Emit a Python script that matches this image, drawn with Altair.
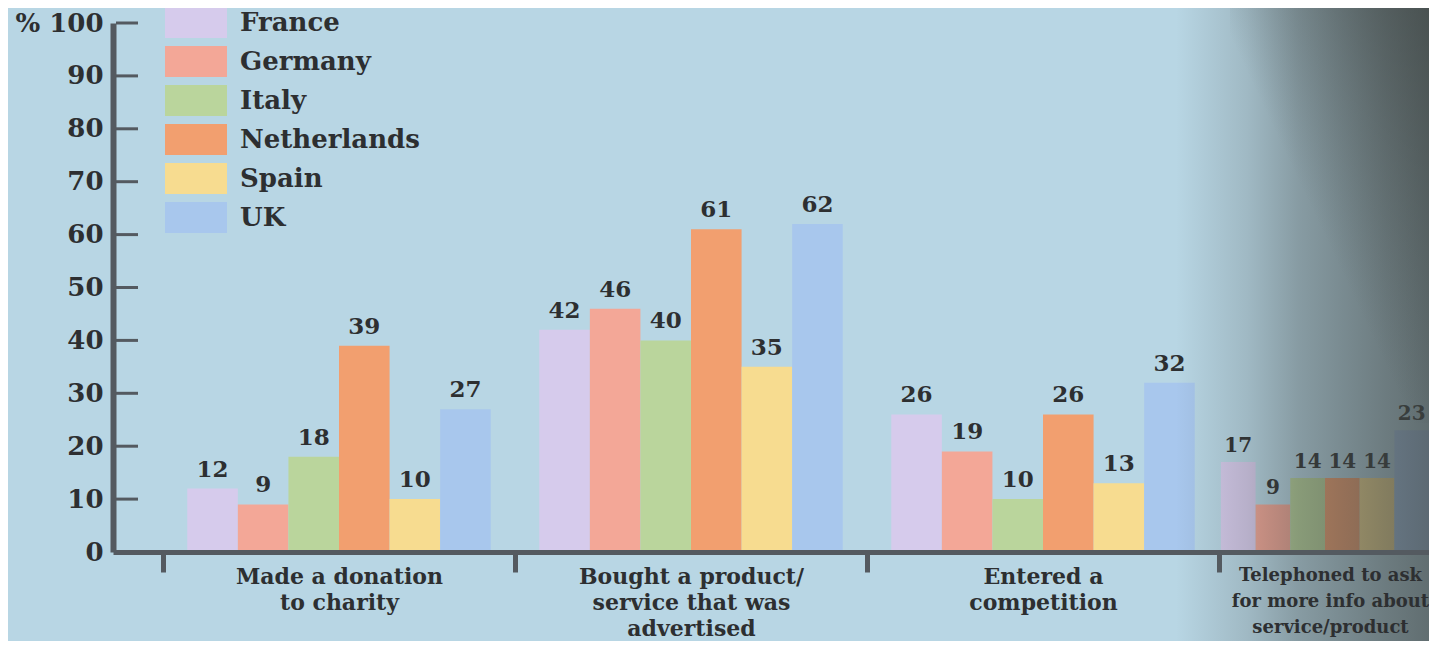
import altair as alt
import pandas as pd

activities = [
    "Made a donation|to charity",
    "Bought a product/|service that was|advertised",
    "Entered a|competition",
    "Telephoned to ask|for more info about|service/product",
]
countries = ["France", "Germany", "Italy", "Netherlands", "Spain", "UK"]
france = [12, 42, 26, 17]
germany = [9, 46, 19, 9]
italy = [18, 40, 10, 14]
netherlands = [39, 61, 26, 14]
spain = [10, 35, 13, 14]
uk = [27, 62, 32, 23]
colors = ["#d6cbec", "#f3a797", "#bad59c", "#f29f6f", "#f7dc90", "#a8c7ed"]
y_ticks = [10, 20, 30, 40, 50, 60, 70, 80, 90, 100]

series = [france, germany, italy, netherlands, spain, uk]
rows = []
for c, vals in zip(countries, series):
    for a, v in zip(activities, vals):
        rows.append({"activity": a, "country": c, "value": v})
df = pd.DataFrame(rows)

FONT = "DejaVu Serif"
TXT = "#2d2f31"
AX = "#545a60"
W, H = 1316, 529
STEP = 352
PO = 50 / STEP
RANGE = STEP * (4 + 2 * PO)
LAST = activities[3]

is_tel = "isString(datum.value) && indexof(datum.value, 'Telephoned') == 0"

# ---- shared encodings ----
y_enc = alt.Y(
    "value:Q",
    scale=alt.Scale(domain=[0, 100], nice=False),
    axis=alt.Axis(
        title=None,
        values=[0] + y_ticks,
        labelExpr="datum.value == 100 ? '% 100' : datum.label",
        labelFont=FONT,
        labelFontWeight="bold",
        labelFontSize=26,
        labelColor=TXT,
        labelPadding=10,
        ticks=False,
        domainColor=AX,
        domainWidth=6,
        grid=False,
        zindex=1,
    ),
)
# legend swatch: path twice as wide as tall (62 x 31 px at size 961)
color_enc = alt.Color(
    "country:N",
    sort=countries,
    scale=alt.Scale(domain=countries, range=colors),
    legend=alt.Legend(
        title=None,
        orient="none",
        legendX=67.5,
        legendY=-16,
        symbolType="M-2,-1H2V1H-2Z",
        symbolSize=961,
        symbolStrokeWidth=0,
        labelFont=FONT,
        labelFontWeight="bold",
        labelFontSize=26,
        labelColor=TXT,
        labelOffset=28.5,
        labelLimit=0,
        rowPadding=8,
        padding=0,
    ),
)

# ---- main groups (uniform band scale, axis for all four activities) ----
x_main = alt.X(
    "activity:N",
    scale=alt.Scale(domain=activities, range=[0, RANGE], paddingInner=0, paddingOuter=PO),
    axis=alt.Axis(
        title=None,
        labelAngle=0,
        labelExpr="split(datum.label, '|')",
        labelFont=FONT,
        labelFontWeight="bold",
        labelFontSize={"condition": {"test": is_tel, "value": 18}, "value": 22},
        labelOffset={"condition": {"test": is_tel, "value": -65}, "value": 0},
        labelColor=TXT,
        labelLineHeight=26,
        labelPadding=-6,
        labelBaseline="top",
        labelLimit=0,
        tickBand="extent",
        tickSize=20,
        tickWidth=5,
        tickColor=AX,
        domainColor=AX,
        domainWidth=5,
        grid=False,
        zindex=1,
    ),
)
xo_main = alt.XOffset(
    "country:N", sort=countries, scale=alt.Scale(paddingOuter=0.48, paddingInner=0)
)

base_main = alt.Chart(df).transform_filter(alt.datum.activity != LAST)
bars_main = base_main.mark_bar(clip=True).encode(
    x=x_main, xOffset=xo_main, y=y_enc, color=color_enc
)
text_main = base_main.mark_text(
    clip=True, baseline="bottom", dy=-7, font=FONT, fontWeight="bold",
    fontSize=23, color=TXT,
).encode(x=x_main, xOffset=xo_main, y="value:Q", text="value:Q")
main = alt.layer(bars_main, text_main)

# ---- last group, squeezed by the curve of the page ----
x_last = alt.X(
    "activity:N",
    scale=alt.Scale(domain=[LAST], range=[1094, 1330], paddingInner=0, paddingOuter=0),
    axis=None,
)
xo_last = alt.XOffset(
    "country:N", sort=countries, scale=alt.Scale(paddingOuter=0.4, paddingInner=0)
)
base_last = alt.Chart(df).transform_filter(alt.datum.activity == LAST)
bars_last = base_last.mark_bar(clip=True).encode(
    x=x_last, xOffset=xo_last, y="value:Q", color=color_enc
)
text_last = base_last.mark_text(
    clip=True, baseline="bottom", dy=-6, font=FONT, fontWeight="bold",
    fontSize=20, color=TXT,
).encode(x=x_last, xOffset=xo_last, y="value:Q", text="value:Q")
last = alt.layer(bars_last, text_last)

# ---- inward y ticks ----
tick_df = pd.DataFrame({"v": y_ticks})
yticks = alt.Chart(tick_df).mark_rule(color=AX, strokeWidth=3).encode(
    y="v:Q", x=alt.value(3), x2=alt.value(25)
)

# ---- page shadow on the right ----
DARK = "62,68,66"
shade = alt.Chart(pd.DataFrame({"k": [0]})).mark_rect(
    clip=False,
    color=alt.Gradient(
        gradient="linear",
        x1=0, x2=1, y1=0, y2=0,
        stops=[
            alt.GradientStop(offset=0.0, color=f"rgba({DARK},0)"),
            alt.GradientStop(offset=0.03, color=f"rgba({DARK},0)"),
            alt.GradientStop(offset=0.3, color=f"rgba({DARK},0.2)"),
            alt.GradientStop(offset=0.49, color=f"rgba({DARK},0.4)"),
            alt.GradientStop(offset=0.64, color=f"rgba({DARK},0.5)"),
            alt.GradientStop(offset=0.82, color=f"rgba({DARK},0.62)"),
            alt.GradientStop(offset=1.0, color=f"rgba({DARK},0.72)"),
        ],
    ),
).encode(
    x=alt.value(1055), x2=alt.value(1320), y=alt.value(-30), y2=alt.value(H + 110)
)
shade_top = alt.Chart(pd.DataFrame({"k": [0]})).mark_rect(
    clip=False,
    color=alt.Gradient(
        gradient="linear",
        x1=0, y1=1, x2=1, y2=0,
        stops=[
            alt.GradientStop(offset=0.0, color=f"rgba({DARK},0)"),
            alt.GradientStop(offset=0.45, color=f"rgba({DARK},0)"),
            alt.GradientStop(offset=0.7, color=f"rgba({DARK},0.3)"),
            alt.GradientStop(offset=1.0, color=f"rgba({DARK},0.7)"),
        ],
    ),
).encode(
    x=alt.value(1117), x2=alt.value(1320), y=alt.value(-30), y2=alt.value(400)
)

chart = (
    alt.layer(main, last, yticks, shade, shade_top)
    .resolve_scale(x="independent", xOffset="independent")
    .properties(
        width=W,
        height=H,
        padding={"left": 105, "top": 15, "right": 0, "bottom": 89},
        autosize=alt.AutoSizeParams(type="none"),
        background="#b8d6e4",
    )
    .configure_view(stroke=None)
)

chart.save("out.html", embed_options={"renderer": "svg", "actions": False})
